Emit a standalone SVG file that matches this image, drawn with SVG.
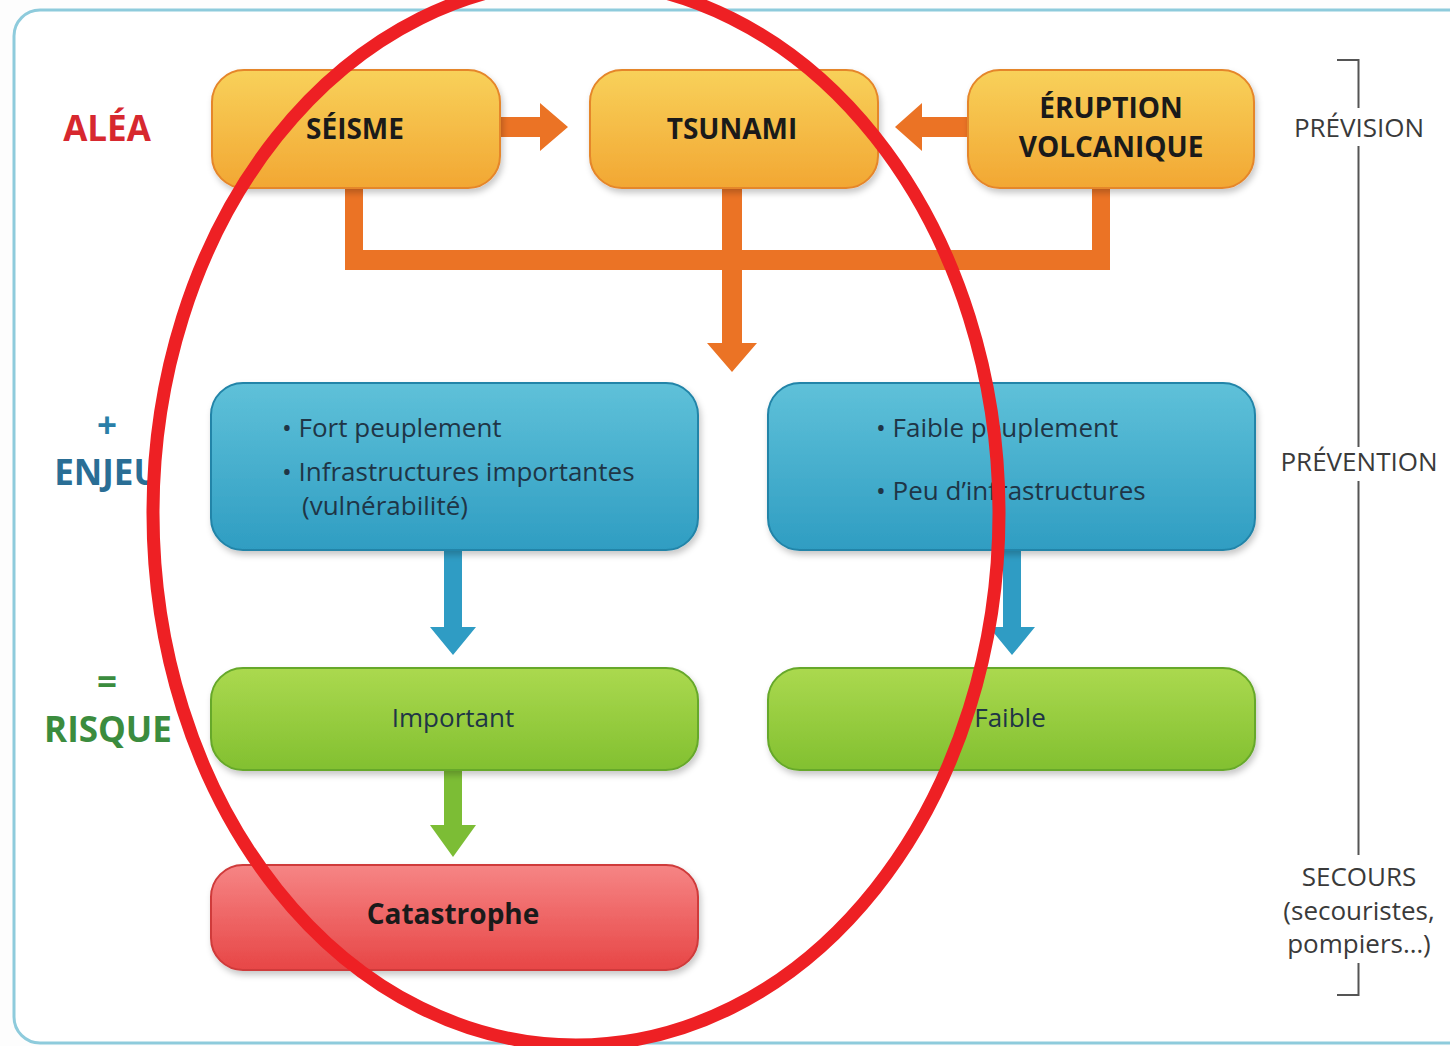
<svg xmlns="http://www.w3.org/2000/svg" width="1450" height="1046" viewBox="0 0 1450 1046">
<defs>
<linearGradient id="gOrange" x1="0" y1="0" x2="0" y2="1"><stop offset="0" stop-color="#f8d15a"/><stop offset="1" stop-color="#f2a733"/></linearGradient>
<linearGradient id="gBlue" x1="0" y1="0" x2="0" y2="1"><stop offset="0" stop-color="#5fc1d9"/><stop offset="1" stop-color="#2f9dc2"/></linearGradient>
<linearGradient id="gGreen" x1="0" y1="0" x2="0" y2="1"><stop offset="0" stop-color="#abd94f"/><stop offset="1" stop-color="#82c030"/></linearGradient>
<linearGradient id="gRed" x1="0" y1="0" x2="0" y2="1"><stop offset="0" stop-color="#f68585"/><stop offset="1" stop-color="#e74646"/></linearGradient>
<filter id="sh" x="-10%" y="-20%" width="120%" height="150%"><feDropShadow dx="2" dy="4" stdDeviation="3" flood-color="#000" flood-opacity="0.22"/></filter>
</defs>
<style>
.box{filter:url(#sh);stroke-width:2}
.or{fill:url(#gOrange);stroke:#e5862a}
.bl{fill:url(#gBlue);stroke:#2184a8}
.gr{fill:url(#gGreen);stroke:#66a82a}
.rd{fill:url(#gRed);stroke:#cf3a3a}
.hd{font-family:"Open Sans","Noto Sans",sans-serif;font-weight:700;font-size:28px;fill:#1a1a1a;text-anchor:middle}
.tx{font-family:"Open Sans","Noto Sans",sans-serif;font-size:26px;fill:#1f3546}
.ct{text-anchor:middle}
.side{font-family:"Open Sans","Noto Sans",sans-serif;font-weight:700;font-size:35px;text-anchor:middle}
.rl{font-family:"Open Sans","Noto Sans",sans-serif;font-size:26px;fill:#3a3a3a;text-anchor:middle}
.ca{fill:#eb7325}
.cb{fill:#2f9cc4}
.cg{fill:#7cbd35}
.brk{stroke:#555;stroke-width:2;fill:none}
</style>
<rect x="0" y="0" width="1450" height="1046" fill="#fdfdfd"/>
<rect x="14" y="10" width="1470" height="1033" rx="26" fill="#ffffff" stroke="#8ecbdc" stroke-width="3"/>

<g id="labels-left">
<text class="side" x="107" y="141" fill="#d7282f">ALÉA</text>
<text class="side" x="107" y="438" fill="#2a7fa8" font-size="30">+</text>
<text class="side" x="107" y="485" fill="#2a6e95">ENJEU</text>
<text class="side" x="107" y="694" fill="#3b8c3e" font-size="30">=</text>
<text class="side" x="108" y="742" fill="#3b8c3e">RISQUE</text>
</g>

<g id="connectors">
<path class="ca" d="M345 186 H363 V250 H722 V186 H742 V250 H1092 V186 H1110 V270 H742 V343 H757 L732 372 L707 343 H722 V270 H345 Z"/>
<path class="ca" d="M498 117 H540 V103 L568 127 L540 151 V137 H498 Z"/>
<path class="ca" d="M968 117 H922 V103 L895 127 L922 151 V137 H968 Z"/>
<path class="cb" d="M444 548 H462 V627 H476 L453 655 L430 627 H444 Z"/>
<path class="cb" d="M1003 548 H1021 V627 H1035 L1012 655 L989 627 H1003 Z"/>
<path class="cg" d="M444 768 H462 V825 H476 L453 857 L430 825 H444 Z"/>
</g>

<g id="seisme">
<rect class="box or" x="212" y="70" width="288" height="118" rx="32"/>
<text class="hd" x="355" y="139">SÉISME</text>
</g>
<g id="tsunami">
<rect class="box or" x="590" y="70" width="288" height="118" rx="32"/>
<text class="hd" x="732" y="139">TSUNAMI</text>
</g>
<g id="eruption">
<rect class="box or" x="968" y="70" width="286" height="118" rx="32"/>
<text class="hd" x="1111" y="118">ÉRUPTION</text>
<text class="hd" x="1111" y="157">VOLCANIQUE</text>
</g>

<g id="enjeu-fort">
<rect class="box bl" x="211" y="383" width="487" height="167" rx="32"/>
<text class="tx" x="282" y="437">• Fort peuplement</text>
<text class="tx" x="282" y="481">• Infrastructures importantes</text>
<text class="tx" x="302" y="515">(vulnérabilité)</text>
</g>
<g id="enjeu-faible">
<rect class="box bl" x="768" y="383" width="487" height="167" rx="32"/>
<text class="tx" x="876" y="437">• Faible peuplement</text>
<text class="tx" x="876" y="500">• Peu d’infrastructures</text>
</g>

<g id="risque-important">
<rect class="box gr" x="211" y="668" width="487" height="102" rx="32"/>
<text class="tx ct" x="453" y="727">Important</text>
</g>
<g id="risque-faible">
<rect class="box gr" x="768" y="668" width="487" height="102" rx="32"/>
<text class="tx ct" x="1010" y="727">Faible</text>
</g>

<g id="catastrophe">
<rect class="box rd" x="211" y="865" width="487" height="105" rx="32"/>
<text class="hd" x="453" y="924" font-size="25">Catastrophe</text>
</g>

<g id="labels-right">
<path class="brk" d="M1337 60 H1358.5 V108 M1358.5 146 V447 M1358.5 481 V855 M1358.5 963 V995 H1337"/>
<text class="rl" x="1359" y="137">PRÉVISION</text>
<text class="rl" x="1359" y="471">PRÉVENTION</text>
<text class="rl" x="1359" y="886">SECOURS</text>
<text class="rl" x="1359" y="920">(secouristes,</text>
<text class="rl" x="1359" y="953">pompiers…)</text>
</g>

<g id="annotation">
<ellipse cx="576" cy="513" rx="423" ry="532" fill="none" stroke="#ee2024" stroke-width="13"/>
</g>
</svg>
